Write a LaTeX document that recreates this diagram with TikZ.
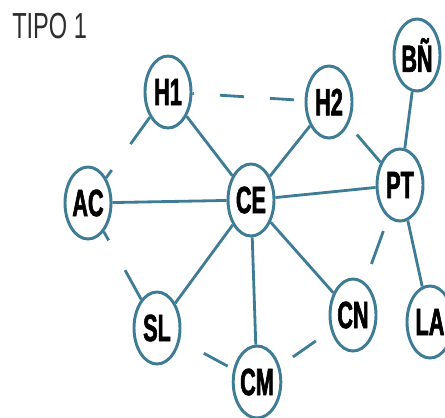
\documentclass[tikz,border=0pt]{standalone}
\usepackage{fontspec}
\usepackage{xcolor}
\usepackage{tikz}
\usetikzlibrary{shapes.geometric}
\newfontfamily\nodefont[FakeStretch=0.57,BoldFeatures={FakeBold=1.6}]{Liberation Sans}
\newfontfamily\titlefont[FakeStretch=0.65]{Liberation Sans}
\definecolor{edgeblue}{RGB}{62,124,150}
\definecolor{titlegray}{RGB}{45,45,45}
\tikzstyle{vertex}=[ellipse,draw=edgeblue,fill=white,line width=2.1pt,minimum width=1.15cm,minimum height=1.8cm,inner sep=0pt,font={\fontsize{27}{29}\nodefont\bfseries}]
\tikzstyle{edge} = [draw,edgeblue,line width=2pt]
\tikzstyle{title} = [anchor=base west,inner sep=0pt,text=titlegray,font={\fontsize{25.8}{28}\titlefont}]

\begin{document}
\begin{tikzpicture}[x=0.025cm,y=-0.025cm]

 \useasboundingbox (0,0) rectangle (445,417);

 \node[title] (tipo) at (12,38) {TIPO 1};

 %Nodes
   \foreach \x/\y/\name/\label in {168/92/H1/H1, 329/102/H2/H2, 417/55/BN/BÑ, 88/203/AC/AC, 251/200/CE/CE,
                                  400/185/PT/PT, 157/328/SL/SL, 257/382/CM/CM, 353/315/CN/CN, 430/322/LA/LA}
          \node[vertex] (\name) at (\x,\y) {\label};

 %Solid
  \foreach \source/ \dest in {H1/CE, H2/CE, AC/CE, CE/PT, CE/SL, CE/CM, CE/CN, PT/BN, PT/LA}
         \path[edge] (\source) -- (\dest);

 %Dashed
  \foreach \source/ \dest /\don/\doff/\dph in {H1/H2/17.1/18.5/16, AC/H1/23.5/22.8/16.7, AC/SL/23.8/24.2/16.7,
                                             SL/CM/19.2/19.2/19.2, CM/CN/19.9/14.2/22.8, CN/PT/24.9/13.8/24.9,
                                             H2/PT/28.5/9.2/28.5}
         \path[edge,dash pattern=on \don pt off \doff pt,dash phase=\dph pt] (\source) -- (\dest);

\end{tikzpicture}
\end{document}
